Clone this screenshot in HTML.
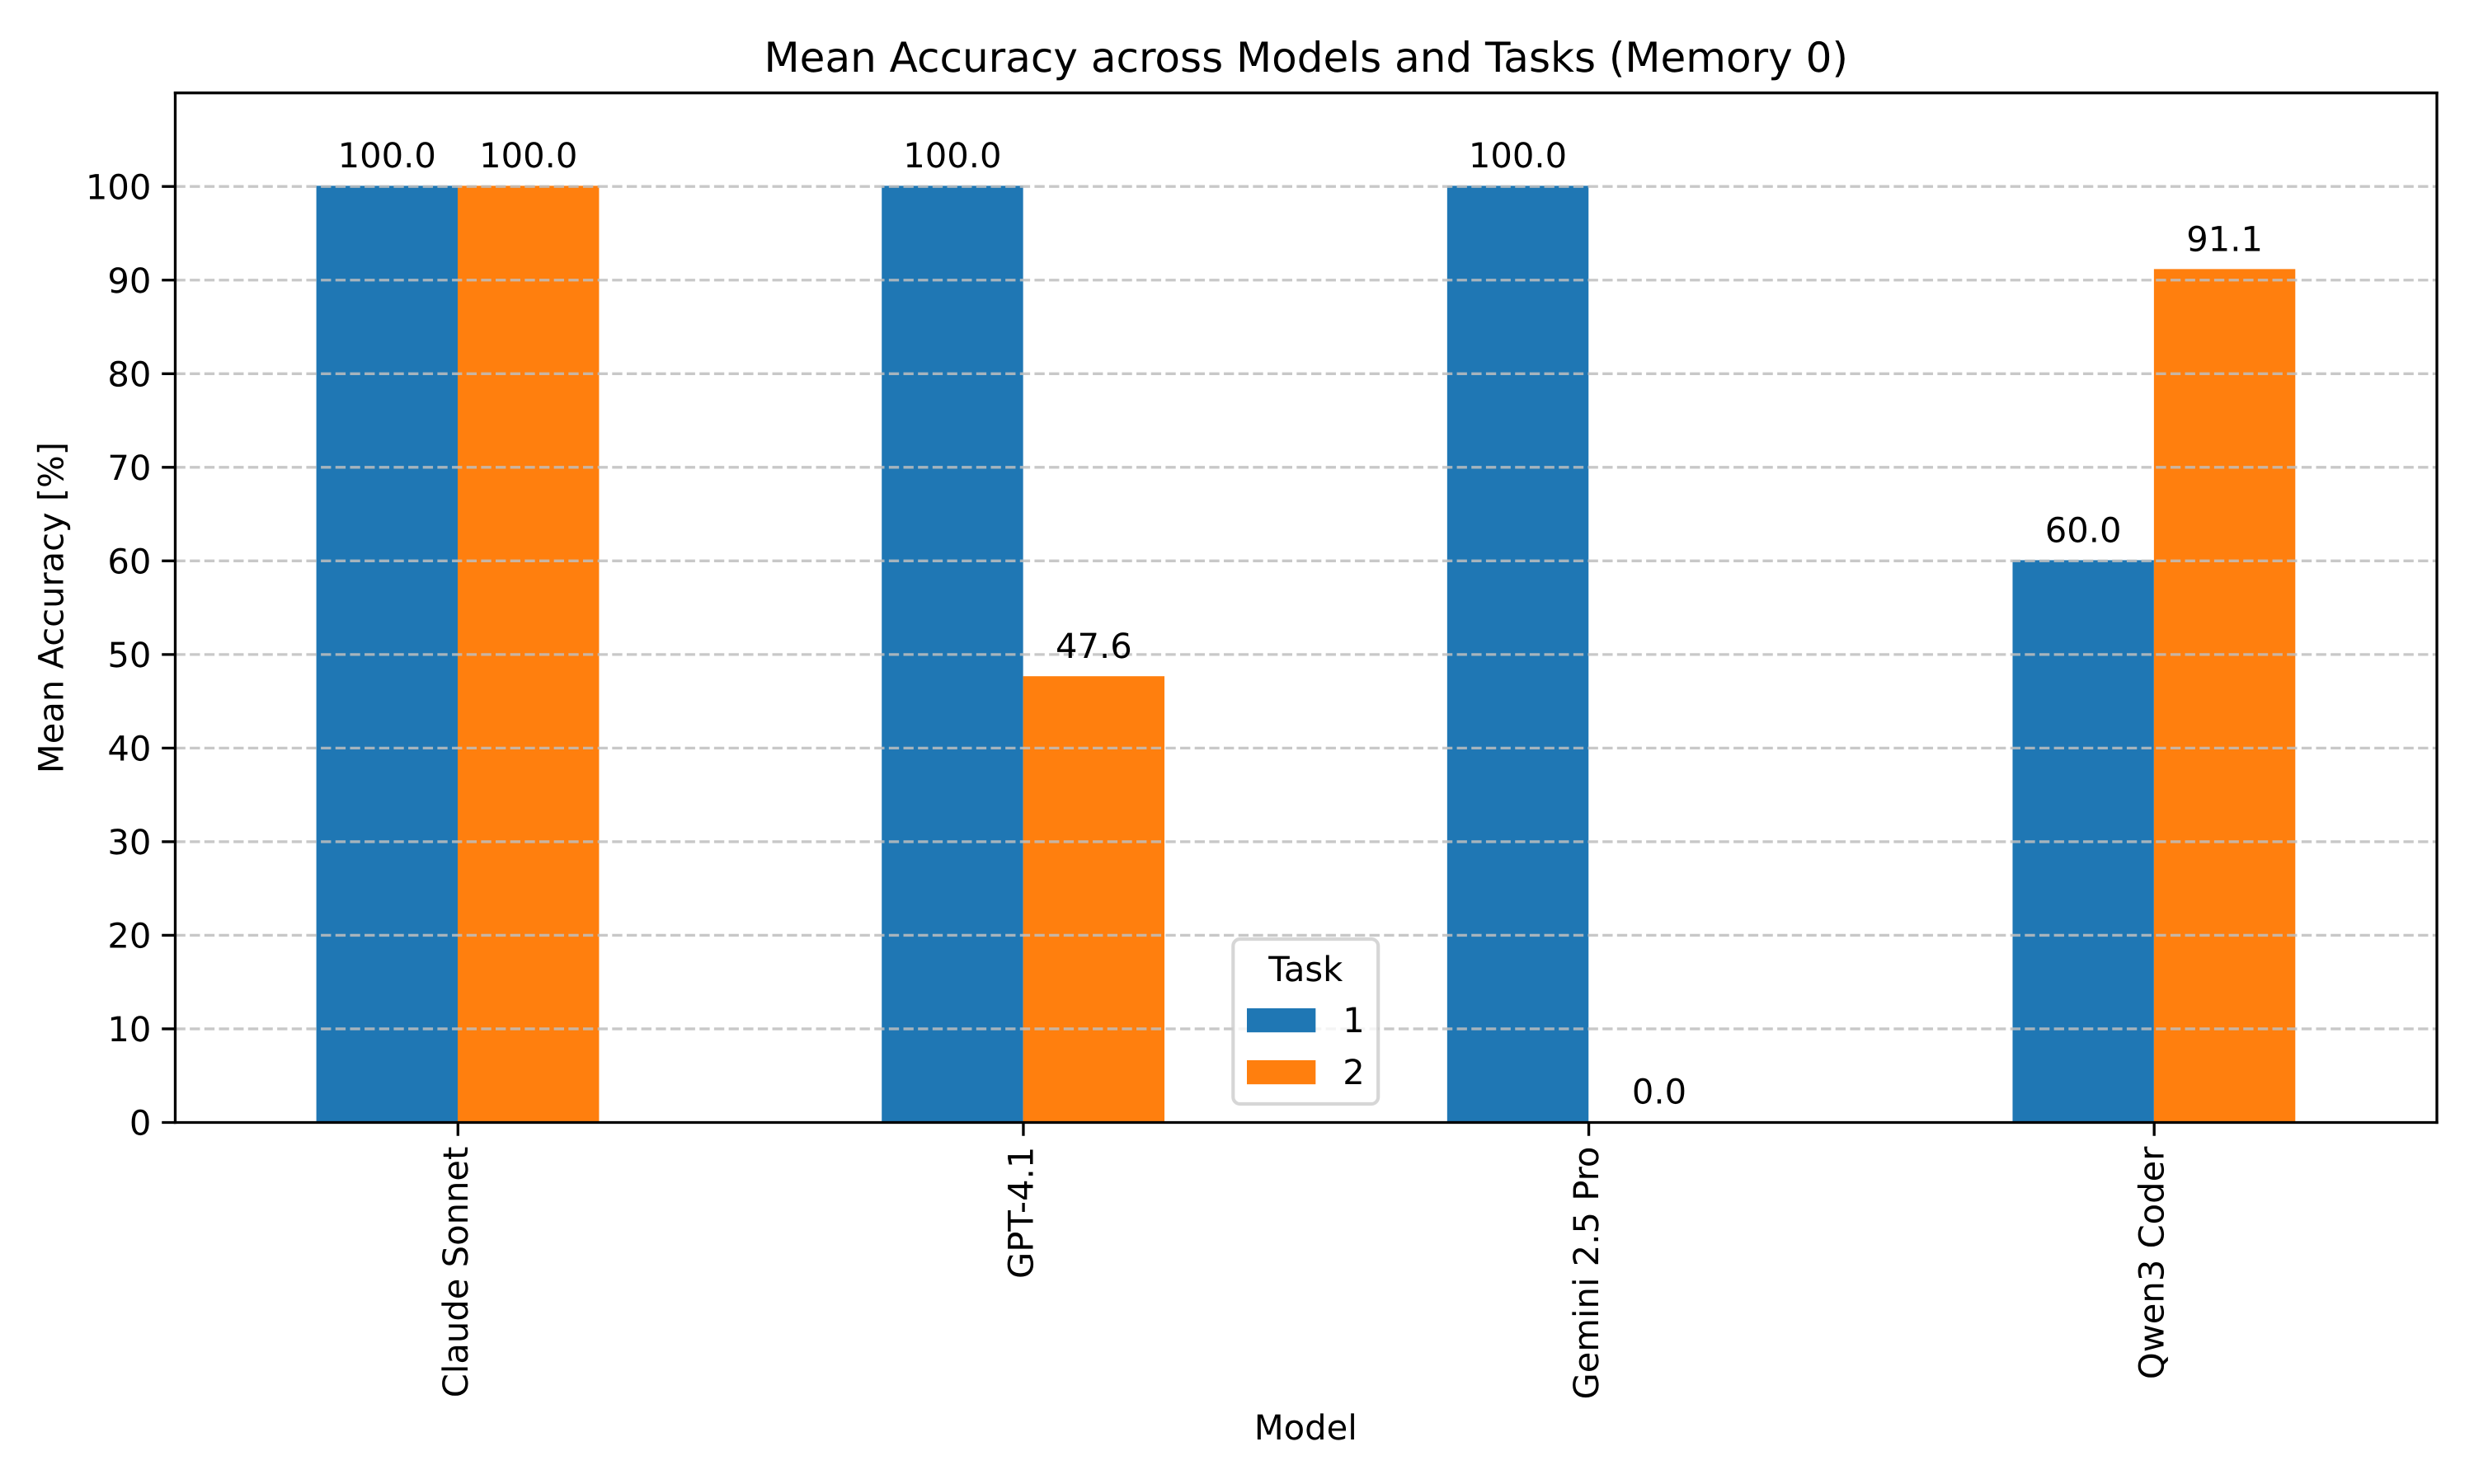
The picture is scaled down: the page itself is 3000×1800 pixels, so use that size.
<!DOCTYPE html>
<html lang="en">
<head>
<meta charset="utf-8">
<title>Mean Accuracy across Models and Tasks (Memory 0)</title>
<style>
html,body{margin:0;padding:0;background:#fff;width:3000px;height:1800px;overflow:hidden}
svg{display:block}
text{font-family:"DejaVu Sans","Liberation Sans",sans-serif;fill:#000;text-rendering:geometricPrecision}
</style>
</head>
<body>
<svg id="chart" xmlns="http://www.w3.org/2000/svg" width="3000" height="1800" viewBox="0 0 3000 1800">
  <rect x="0" y="0" width="3000" height="1800" fill="#fff"/>
  <g id="bars"></g>
  <g id="grid"></g>
  <g id="ticks"></g>
  <g id="value-labels"></g>
  <g stroke="#000" stroke-width="3.33" stroke-linecap="square" fill="none">
    <line x1="212.5" y1="112.7" x2="212.5" y2="1361.5"/>
    <line x1="2955" y1="112.7" x2="2955" y2="1361.5"/>
    <line x1="212.5" y1="112.7" x2="2955" y2="112.7"/>
    <line x1="212.5" y1="1361.5" x2="2955" y2="1361.5"/>
  </g>
  <text x="1583.75" y="87" font-size="50" text-anchor="middle">Mean Accuracy across Models and Tasks (Memory 0)</text>
  <text x="1583.25" y="1746" font-size="41.67" text-anchor="middle">Model</text>
  <text transform="translate(76.7 737.1) rotate(-90)" font-size="41.67" text-anchor="middle">Mean Accuracy [%]</text>
  <g>
    <rect x="1495.3" y="1139" width="175.9" height="200" rx="8.33" ry="8.33" fill="#fff" fill-opacity="0.8" stroke="#ccc" stroke-opacity="0.8" stroke-width="4.17"/>
    <text x="1583.25" y="1190" font-size="41.67" text-anchor="middle">Task</text>
    <rect x="1512" y="1223" width="83.33" height="29.17" fill="#1f77b4"/>
    <text x="1628.3" y="1252" font-size="41.67">1</text>
    <rect x="1512" y="1286" width="83.33" height="29.17" fill="#ff7f0e"/>
    <text x="1628.3" y="1315" font-size="41.67">2</text>
  </g>
</svg>
<script>
const categories = ["Claude Sonnet", "GPT-4.1", "Gemini 2.5 Pro", "Qwen3 Coder"];
const task1Values = [100.0, 100.0, 100.0, 60.0];
const task2Values = [100.0, 47.6, 0.0, 91.1];
const yTickValues = [0, 10, 20, 30, 40, 50, 60, 70, 80, 90, 100];

const NS = "http://www.w3.org/2000/svg";
const plotLeft = 212.5, plotRight = 2955, plotTop = 112.7, plotBottom = 1361.5;
const yMax = 110, barWidth = 0.25, tickLen = 14.58, tickPad = 14.58;
const barNudge = 0.9;

function xScale(v) { return plotLeft + (v + 0.5) / categories.length * (plotRight - plotLeft); }
function yScale(v) { return plotBottom - v / yMax * (plotBottom - plotTop); }
function make(tag, parent) {
  const el = document.createElementNS(NS, tag);
  parent.appendChild(el);
  return el;
}

const barsGroup = document.getElementById("bars");
const gridGroup = document.getElementById("grid");
const ticksGroup = document.getElementById("ticks");
const labelsGroup = document.getElementById("value-labels");

function drawBar(i, value, offset, color, taskId) {
  const rect = make("rect", barsGroup);
  
  
  const x0 = xScale(i + offset) - 0.3;
  const x1 = xScale(i + offset + barWidth) - 0.3;
  const top = value > 0 ? yScale(value) - barNudge : plotBottom;
  rect.setAttribute("x", x0);
  rect.setAttribute("width", x1 - x0);
  rect.setAttribute("y", top);
  rect.setAttribute("height", plotBottom - top);
  rect.setAttribute("fill", color);
  const label = make("text", labelsGroup);
  
  
  label.setAttribute("x", (x0 + x1) / 2);
  label.setAttribute("y", yScale(value) - 23);
  label.setAttribute("font-size", "41.67");
  label.setAttribute("text-anchor", "middle");
  label.textContent = value.toFixed(1);
}

categories.forEach(function (name, i) {
  drawBar(i, task1Values[i], -barWidth, "#1f77b4", 1);
  drawBar(i, task2Values[i], 0, "#ff7f0e", 2);

  const tick = make("line", ticksGroup);
  
  
  tick.setAttribute("x1", xScale(i));
  tick.setAttribute("x2", xScale(i));
  tick.setAttribute("y1", plotBottom);
  tick.setAttribute("y2", plotBottom + tickLen + 1.67);
  tick.setAttribute("stroke", "#000");
  tick.setAttribute("stroke-width", "3.33");

  const lab = make("text", ticksGroup);
  
  
  lab.setAttribute("transform", "translate(" + (xScale(i) + 11.5) + " " + (plotBottom + tickLen + tickPad) + ") rotate(-90)");
  lab.setAttribute("font-size", "41.67");
  lab.setAttribute("text-anchor", "end");
  lab.textContent = name;
});

yTickValues.forEach(function (v) {
  const y = yScale(v);
  if (v > 0) {
    const g = make("line", gridGroup);
    
    
    g.setAttribute("x1", plotLeft);
    g.setAttribute("x2", plotRight);
    g.setAttribute("y1", y);
    g.setAttribute("y2", y);
    g.setAttribute("stroke", "#bebebe");
    g.setAttribute("stroke-opacity", "0.85");
    g.setAttribute("stroke-width", "3.33");
    g.setAttribute("stroke-dasharray", "12.33 5.33");
  }
  const tick = make("line", ticksGroup);
  
  
  tick.setAttribute("x1", plotLeft);
  tick.setAttribute("x2", plotLeft - tickLen - 1.67);
  tick.setAttribute("y1", y);
  tick.setAttribute("y2", y);
  tick.setAttribute("stroke", "#000");
  tick.setAttribute("stroke-width", "3.33");

  const lab = make("text", ticksGroup);
  
  
  lab.setAttribute("x", plotLeft - tickLen - tickPad);
  lab.setAttribute("y", y + 15.2);
  lab.setAttribute("font-size", "41.67");
  lab.setAttribute("text-anchor", "end");
  lab.textContent = String(v);
});
</script>
</body>
</html>
